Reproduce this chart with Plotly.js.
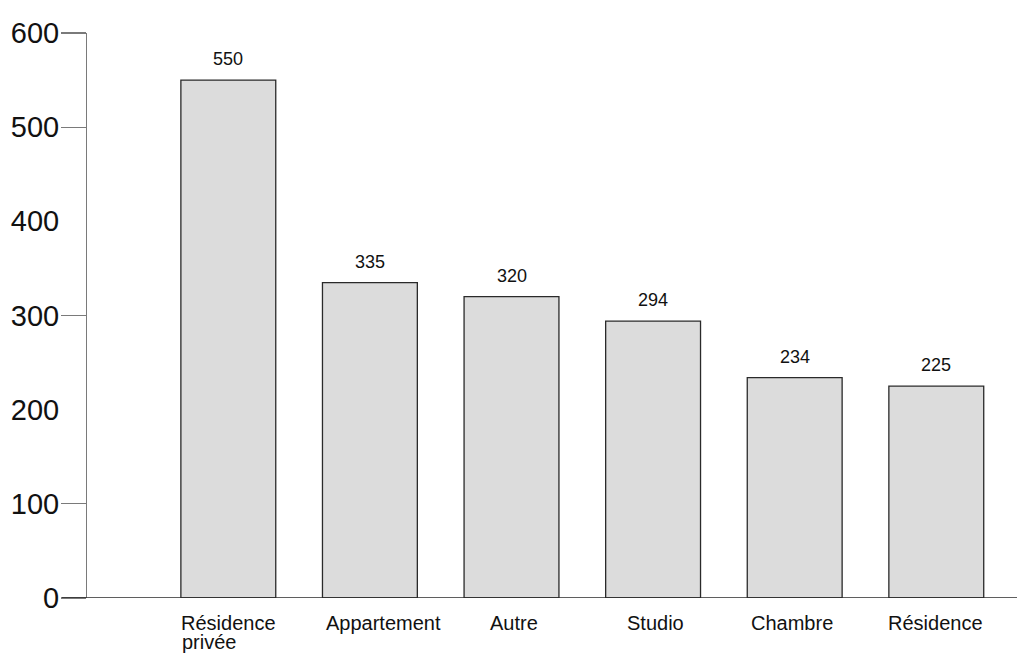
<!DOCTYPE html>
<html>
<head>
<meta charset="utf-8">
<script src="https://cdn.plot.ly/plotly-3.0.1.min.js"></script>
<style>html,body{margin:0;padding:0;background:#fff;}#chart{width:1017px;height:653px;}</style>
</head>
<body>
<div id="chart"></div>
<script>
var categories = ["Résidence privée", "Appartement", "Autre", "Studio", "Chambre", "Résidence"];
var categoryLines = [["Résidence", "privée"], ["Appartement"], ["Autre"], ["Studio"], ["Chambre"], ["Résidence"]];
var values = [550, 335, 320, 294, 234, 225];
var yTickLabels = [0, 100, 200, 300, 400, 500, 600];
var yTickMarks = [0, 100, 300, 500, 600];

var font = "Liberation Sans, Arial, sans-serif";
var catSize = 20;
// small horizontal nudges of the category labels, as in the reference
var labelNudge = [0, 14, 2, 2, -3, -1];

var ctx = document.createElement("canvas").getContext("2d");
ctx.font = catSize + "px Liberation Sans, Arial, sans-serif";
function textWidth(s) { return ctx.measureText(s).width; }

var bars = {
  type: "bar",
  x: categories,
  y: values,
  width: 0.67,
  marker: {color: "#dcdcdc", line: {color: "#2a2a2a", width: 1.3}},
  hoverinfo: "none"
};
var labelAxisHolder = {type: "scatter", x: [], y: [], yaxis: "y2", hoverinfo: "none", showlegend: false};

var annotations = [];
categories.forEach(function (c, i) {
  annotations.push({
    x: c, y: values[i], xref: "x", yref: "y",
    text: String(values[i]), showarrow: false,
    xanchor: "center", yanchor: "bottom", yshift: 9,
    font: {family: font, size: 18, color: "#111"}
  });
  var lines = categoryLines[i];
  var w0 = textWidth(lines[0]);
  lines.forEach(function (ln, k) {
    annotations.push({
      x: c, y: 0, xref: "x", yref: "y",
      text: ln, showarrow: false, borderpad: 0,
      xanchor: k === 0 ? "center" : "left",
      xshift: labelNudge[i] + (k === 0 ? 0 : -w0 / 2),
      yanchor: "top", yshift: -13 - 19 * k,
      font: {family: font, size: catSize, color: "#111"}
    });
  });
});

var H = 653 - 29 - 55;
var layout = {
  width: 1017, height: 653,
  margin: {l: 87, r: 0, t: 29, b: 55},
  paper_bgcolor: "#fff", plot_bgcolor: "#fff",
  showlegend: false,
  xaxis: {
    type: "category", range: [-0.998, 5.57],
    showline: false, showgrid: false, zeroline: false,
    ticks: "", showticklabels: false, fixedrange: true
  },
  yaxis: {
    domain: [0, (H - 4) / H],
    range: [0, 600], tickmode: "array", tickvals: yTickMarks,
    showticklabels: false,
    showline: true, linecolor: "#7a7a7a", linewidth: 1.3,
    ticks: "outside", ticklen: 25, tickcolor: "#7a7a7a", tickwidth: 1.3,
    showgrid: false, zeroline: false, fixedrange: true
  },
  yaxis2: {
    overlaying: "y", side: "left", anchor: "x",
    domain: [4 / H, 1],
    range: [0, 600], tickmode: "array", tickvals: yTickLabels,
    ticktext: yTickLabels.map(String),
    showline: false, showgrid: false, zeroline: false,
    ticks: "outside", ticklen: 25, tickcolor: "rgba(0,0,0,0)",
    tickfont: {family: font, size: 29, color: "#111"},
    ticklabelstandoff: -4, fixedrange: true
  },
  shapes: [{
    type: "line", xref: "paper", yref: "y",
    x0: -25/930, x1: 1, y0: 0, y1: 0,
    line: {color: "#2a2a2a", width: 1.3}, layer: "above"
  }],
  annotations: annotations
};

Plotly.newPlot("chart", [bars, labelAxisHolder], layout, {displayModeBar: false, staticPlot: true});
</script>
</body>
</html>
